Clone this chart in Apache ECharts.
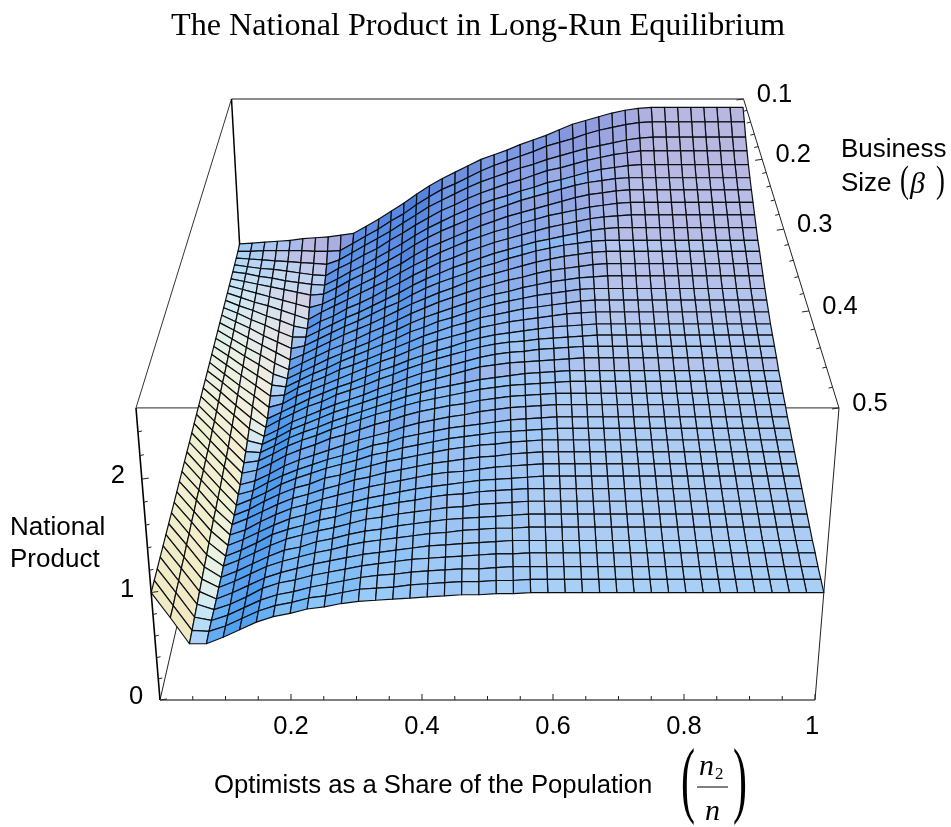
<!DOCTYPE html>
<html><head><meta charset="utf-8">
<style>html,body{margin:0;padding:0;background:#fff}#c{width:951px;height:827px}</style>
<script src="https://cdn.jsdelivr.net/npm/echarts@6/dist/echarts.min.js"></script>
</head><body><div id="c"></div>
<script>
const titleText = 'The National Product in Long-Run Equilibrium';
const shareGrid = [0,.0256,.0513,.0769,.1026,.1282,.1538,.1795,.2051,.2308,.2564,.2821,.3077,.3333,.359,.3846,.4103,.4359,.4615,.4872,.5128,.5385,.5641,.5897,.6154,.641,.6667,.6923,.7179,.7436,.7692,.7949,.8205,.8462,.8718,.8974,.9231,.9487,.9744,1];
const betaGrid = [.1,.1103,.1205,.1308,.141,.1513,.1615,.1718,.1821,.1923,.2026,.2128,.2231,.2333,.2436,.2538,.2641,.2744,.2846,.2949,.3051,.3154,.3256,.3359,.3462,.3564,.3667,.3769,.3872,.3974,.4077,.4179,.4282,.4385,.4487,.459,.4692,.4795,.4897,.5];
const shareTickLabels = [[.2,'0.2'],[.4,'0.4'],[.6,'0.6'],[.8,'0.8'],[1,'1']];
const betaTickLabels = [[.1,'0.1'],[.2,'0.2'],[.3,'0.3'],[.4,'0.4'],[.5,'0.5']];
const productTickLabels = [[0,'0'],[1,'1'],[2,'2']];
const shareMinorTicks = [.05,.1,.15,.25,.3,.35,.45,.5,.55,.65,.7,.75,.85,.9,.95];
const betaMinorTicks = [.12,.14,.16,.18,.22,.24,.26,.28,.32,.34,.36,.38,.42,.44,.46,.48];
const productMinorTicks = [.2,.4,.6,.8,1.2,1.4,1.6,1.8,2.2,2.4];
const productTop = 2.6;
// National product: one row per business size (0.1 at the back to 0.5 at the front), one value per optimist share
const productRows = [
[1.01,1.02,1.03,1.04,1.05,1.07,1.08,1.09,1.11,1.13,1.21,1.29,1.38,1.47,1.57,1.66,1.74,1.81,1.88,1.95,2.00,2.05,2.11,2.16,2.21,2.27,2.33,2.37,2.41,2.45,2.48,2.50,2.51,2.51,2.51,2.51,2.51,2.51,2.51,2.51],
[1.00,1.00,1.01,1.01,1.01,1.01,1.00,1.00,1.01,1.09,1.17,1.25,1.34,1.42,1.52,1.61,1.69,1.75,1.82,1.89,1.95,2.00,2.05,2.10,2.16,2.20,2.24,2.29,2.33,2.36,2.39,2.41,2.42,2.42,2.42,2.42,2.42,2.42,2.42,2.42],
[1.00,.99,.98,.97,.96,.95,.94,.93,.98,1.06,1.14,1.22,1.30,1.39,1.48,1.57,1.64,1.71,1.78,1.84,1.89,1.94,1.99,2.03,2.08,2.12,2.16,2.20,2.23,2.26,2.29,2.31,2.32,2.32,2.32,2.32,2.32,2.32,2.32,2.32],
[1.00,.98,.96,.95,.93,.91,.89,.88,.96,1.03,1.11,1.18,1.27,1.35,1.44,1.52,1.60,1.66,1.73,1.79,1.84,1.89,1.93,1.98,2.03,2.06,2.10,2.14,2.17,2.20,2.22,2.24,2.24,2.24,2.24,2.24,2.24,2.24,2.24,2.24],
[1.00,.98,.95,.93,.90,.88,.86,.85,.92,1.00,1.07,1.15,1.23,1.31,1.40,1.48,1.55,1.62,1.68,1.74,1.79,1.83,1.88,1.92,1.97,2.00,2.04,2.08,2.11,2.13,2.15,2.16,2.16,2.16,2.16,2.16,2.16,2.16,2.16,2.16],
[1.00,.97,.94,.91,.88,.85,.82,.83,.90,.98,1.05,1.12,1.20,1.28,1.37,1.45,1.52,1.58,1.64,1.70,1.75,1.80,1.85,1.89,1.93,1.97,2.01,2.04,2.06,2.08,2.09,2.09,2.09,2.09,2.09,2.09,2.09,2.09,2.09,2.09],
[1.00,.96,.92,.88,.84,.80,.76,.80,.87,.95,1.02,1.09,1.17,1.24,1.33,1.41,1.47,1.53,1.59,1.65,1.70,1.75,1.79,1.83,1.87,1.91,1.95,1.98,2.00,2.02,2.03,2.03,2.03,2.03,2.03,2.03,2.03,2.03,2.03,2.03],
[1.00,.95,.90,.86,.81,.76,.71,.79,.86,.93,1.00,1.07,1.14,1.22,1.30,1.37,1.44,1.50,1.56,1.61,1.66,1.70,1.75,1.79,1.83,1.86,1.89,1.92,1.94,1.96,1.97,1.97,1.97,1.97,1.97,1.97,1.97,1.97,1.97,1.97],
[1.00,.94,.89,.83,.78,.72,.69,.77,.83,.91,.97,1.04,1.12,1.19,1.27,1.34,1.41,1.46,1.52,1.57,1.62,1.66,1.70,1.74,1.78,1.81,1.84,1.87,1.89,1.90,1.91,1.91,1.91,1.91,1.91,1.91,1.91,1.91,1.91,1.91],
[1.00,.94,.87,.81,.74,.68,.68,.75,.82,.89,.95,1.02,1.09,1.16,1.24,1.31,1.37,1.43,1.48,1.53,1.58,1.62,1.66,1.70,1.73,1.76,1.79,1.82,1.84,1.85,1.85,1.85,1.85,1.85,1.85,1.85,1.85,1.85,1.85,1.85],
[1.00,.93,.86,.78,.71,.64,.67,.74,.81,.88,.94,1.01,1.08,1.14,1.22,1.29,1.35,1.40,1.45,1.51,1.55,1.60,1.64,1.68,1.71,1.74,1.76,1.78,1.79,1.79,1.79,1.79,1.79,1.79,1.79,1.79,1.79,1.79,1.79,1.79],
[1.00,.92,.84,.76,.68,.60,.66,.73,.80,.87,.93,.99,1.06,1.13,1.20,1.26,1.32,1.37,1.43,1.48,1.52,1.56,1.60,1.64,1.67,1.70,1.72,1.74,1.75,1.75,1.75,1.75,1.75,1.75,1.75,1.75,1.75,1.75,1.75,1.75],
[1.00,.91,.82,.74,.65,.58,.65,.72,.79,.85,.91,.98,1.04,1.11,1.18,1.24,1.30,1.35,1.40,1.45,1.49,1.53,1.56,1.60,1.63,1.65,1.67,1.69,1.70,1.70,1.70,1.70,1.70,1.70,1.70,1.70,1.70,1.70,1.70,1.70],
[1.00,.91,.81,.72,.62,.57,.64,.71,.78,.84,.90,.96,1.03,1.09,1.16,1.22,1.27,1.32,1.37,1.42,1.46,1.49,1.53,1.56,1.59,1.61,1.63,1.64,1.65,1.65,1.65,1.65,1.65,1.65,1.65,1.65,1.65,1.65,1.65,1.65],
[1.00,.90,.79,.69,.59,.57,.64,.71,.77,.84,.90,.96,1.02,1.08,1.15,1.20,1.26,1.30,1.35,1.40,1.44,1.47,1.50,1.53,1.55,1.57,1.59,1.60,1.60,1.60,1.60,1.60,1.60,1.60,1.60,1.60,1.60,1.60,1.60,1.60],
[1.00,.89,.78,.67,.56,.57,.65,.71,.77,.84,.89,.95,1.01,1.07,1.13,1.19,1.24,1.29,1.33,1.38,1.41,1.44,1.47,1.49,1.51,1.53,1.55,1.56,1.56,1.56,1.56,1.56,1.56,1.56,1.56,1.56,1.56,1.56,1.56,1.56],
[1.00,.88,.76,.65,.53,.57,.65,.71,.77,.83,.89,.95,1.01,1.06,1.12,1.18,1.23,1.27,1.31,1.36,1.39,1.42,1.44,1.46,1.48,1.50,1.51,1.52,1.52,1.52,1.52,1.52,1.52,1.52,1.52,1.52,1.52,1.52,1.52,1.52],
[1.00,.88,.75,.63,.50,.57,.64,.71,.77,.83,.88,.94,1.00,1.05,1.11,1.16,1.21,1.25,1.30,1.34,1.37,1.39,1.41,1.43,1.45,1.46,1.47,1.48,1.48,1.48,1.48,1.48,1.48,1.48,1.48,1.48,1.48,1.48,1.48,1.48],
[1.00,.87,.73,.60,.50,.58,.65,.72,.77,.84,.89,.94,1.00,1.05,1.11,1.16,1.21,1.25,1.29,1.33,1.36,1.38,1.39,1.41,1.42,1.43,1.44,1.45,1.45,1.45,1.45,1.45,1.45,1.45,1.45,1.45,1.45,1.45,1.45,1.45],
[1.00,.86,.72,.58,.50,.57,.65,.71,.77,.83,.88,.93,.99,1.04,1.10,1.15,1.19,1.23,1.27,1.31,1.34,1.36,1.37,1.39,1.40,1.41,1.42,1.42,1.42,1.42,1.42,1.42,1.42,1.42,1.42,1.42,1.42,1.42,1.42,1.42],
[1.00,.85,.70,.55,.51,.58,.66,.72,.78,.84,.89,.94,.99,1.04,1.09,1.14,1.18,1.22,1.26,1.30,1.32,1.34,1.35,1.36,1.37,1.38,1.39,1.39,1.39,1.39,1.39,1.39,1.39,1.39,1.39,1.39,1.39,1.39,1.39,1.39],
[1.00,.84,.69,.53,.52,.59,.67,.73,.78,.84,.89,.94,.99,1.04,1.09,1.13,1.17,1.20,1.23,1.26,1.28,1.30,1.32,1.33,1.34,1.35,1.35,1.35,1.35,1.35,1.35,1.35,1.35,1.35,1.35,1.35,1.35,1.35,1.35,1.35],
[1.00,.84,.67,.51,.53,.60,.68,.74,.79,.85,.90,.95,1.00,1.04,1.09,1.13,1.16,1.19,1.22,1.25,1.27,1.29,1.30,1.31,1.32,1.33,1.33,1.33,1.33,1.33,1.33,1.33,1.33,1.33,1.33,1.33,1.33,1.33,1.33,1.33],
[1.00,.83,.66,.50,.53,.60,.68,.74,.79,.85,.89,.94,.99,1.03,1.08,1.12,1.15,1.18,1.20,1.23,1.25,1.27,1.28,1.29,1.30,1.30,1.30,1.30,1.30,1.30,1.30,1.30,1.30,1.30,1.30,1.30,1.30,1.30,1.30,1.30],
[1.00,.83,.66,.48,.52,.59,.67,.73,.78,.83,.88,.93,.97,1.01,1.06,1.10,1.13,1.16,1.18,1.21,1.23,1.25,1.26,1.27,1.28,1.28,1.28,1.28,1.28,1.28,1.28,1.28,1.28,1.28,1.28,1.28,1.28,1.28,1.28,1.28],
[1.00,.83,.65,.48,.52,.60,.67,.73,.78,.83,.87,.92,.97,1.00,1.05,1.08,1.11,1.14,1.16,1.18,1.20,1.22,1.23,1.24,1.25,1.25,1.25,1.25,1.25,1.25,1.25,1.25,1.25,1.25,1.25,1.25,1.25,1.25,1.25,1.25],
[1.00,.82,.64,.47,.53,.60,.68,.74,.79,.84,.88,.92,.97,1.00,1.04,1.07,1.10,1.13,1.15,1.17,1.19,1.20,1.21,1.22,1.23,1.23,1.23,1.23,1.23,1.23,1.23,1.23,1.23,1.23,1.23,1.23,1.23,1.23,1.23,1.23],
[1.00,.82,.64,.47,.53,.61,.68,.74,.78,.84,.87,.92,.96,1.00,1.03,1.06,1.09,1.12,1.14,1.16,1.17,1.19,1.20,1.21,1.21,1.21,1.21,1.21,1.21,1.21,1.21,1.21,1.21,1.21,1.21,1.21,1.21,1.21,1.21,1.21],
[1.00,.82,.63,.48,.54,.61,.68,.74,.78,.83,.87,.92,.95,.99,1.02,1.05,1.08,1.10,1.12,1.14,1.15,1.17,1.18,1.19,1.19,1.19,1.19,1.19,1.19,1.19,1.19,1.19,1.19,1.19,1.19,1.19,1.19,1.19,1.19,1.19],
[1.00,.82,.63,.48,.53,.61,.68,.74,.78,.83,.87,.91,.95,.98,1.01,1.04,1.07,1.09,1.10,1.12,1.14,1.15,1.16,1.17,1.17,1.17,1.17,1.17,1.17,1.17,1.17,1.17,1.17,1.17,1.17,1.17,1.17,1.17,1.17,1.17],
[1.00,.81,.62,.48,.54,.61,.68,.74,.78,.83,.86,.90,.94,.97,1.00,1.03,1.05,1.07,1.09,1.11,1.12,1.13,1.14,1.15,1.15,1.15,1.15,1.15,1.15,1.15,1.15,1.15,1.15,1.15,1.15,1.15,1.15,1.15,1.15,1.15],
[1.00,.81,.61,.48,.54,.61,.69,.74,.78,.83,.86,.91,.94,.97,1.00,1.02,1.05,1.07,1.08,1.10,1.11,1.12,1.13,1.13,1.13,1.13,1.13,1.13,1.13,1.13,1.13,1.13,1.13,1.13,1.13,1.13,1.13,1.13,1.13,1.13],
[1.00,.80,.60,.49,.55,.62,.69,.75,.79,.83,.86,.90,.94,.96,.99,1.01,1.03,1.05,1.06,1.08,1.09,1.10,1.11,1.11,1.11,1.11,1.11,1.11,1.11,1.11,1.11,1.11,1.11,1.11,1.11,1.11,1.11,1.11,1.11,1.11],
[1.00,.80,.59,.49,.55,.62,.69,.75,.78,.83,.86,.90,.93,.95,.98,1.00,1.02,1.04,1.05,1.06,1.07,1.08,1.09,1.09,1.09,1.09,1.09,1.09,1.09,1.09,1.09,1.09,1.09,1.09,1.09,1.09,1.09,1.09,1.09,1.09],
[1.00,.79,.58,.50,.56,.63,.70,.75,.79,.83,.86,.90,.93,.95,.97,.99,1.01,1.02,1.04,1.05,1.06,1.06,1.07,1.07,1.07,1.07,1.07,1.07,1.07,1.07,1.07,1.07,1.07,1.07,1.07,1.07,1.07,1.07,1.07,1.07],
[1.00,.79,.57,.50,.56,.63,.70,.75,.79,.83,.86,.89,.92,.94,.96,.98,1.00,1.01,1.02,1.03,1.04,1.05,1.05,1.05,1.05,1.05,1.05,1.05,1.05,1.05,1.05,1.05,1.05,1.05,1.05,1.05,1.05,1.05,1.05,1.05],
[1.00,.78,.56,.51,.56,.63,.71,.76,.79,.83,.86,.89,.92,.94,.96,.98,.99,1.00,1.01,1.02,1.03,1.03,1.04,1.04,1.04,1.04,1.04,1.04,1.04,1.04,1.04,1.04,1.04,1.04,1.04,1.04,1.04,1.04,1.04,1.04],
[1.00,.78,.55,.52,.57,.64,.71,.76,.79,.83,.86,.89,.92,.94,.95,.97,.98,.99,1.00,1.00,1.01,1.02,1.02,1.02,1.02,1.02,1.02,1.02,1.02,1.02,1.02,1.02,1.02,1.02,1.02,1.02,1.02,1.02,1.02,1.02],
[1.00,.77,.54,.53,.58,.65,.72,.77,.80,.84,.86,.89,.92,.93,.94,.96,.97,.98,.99,.99,1.00,1.00,1.01,1.01,1.01,1.01,1.01,1.01,1.01,1.01,1.01,1.01,1.01,1.01,1.01,1.01,1.01,1.01,1.01,1.01],
[1.00,.77,.53,.53,.59,.66,.73,.78,.81,.85,.87,.90,.92,.93,.94,.95,.96,.97,.98,.98,.99,.99,1.00,1.00,1.00,1.00,1.00,1.00,1.00,1.00,1.00,1.00,1.00,1.00,1.00,1.00,1.00,1.00,1.00,1.00]
];

const SANS = '"Liberation Sans", Arial, sans-serif';
const SERIF = '"Liberation Serif", "Times New Roman", serif';

/* perspective view of the box: share runs left to right, business size from back to front, product upward */
function project(share, beta, product) {
  const v = (0.5 - beta) / 0.4, w = product / productTop;
  const d = 1 + 0.3476 * v - 0.0683 * w;
  return [487.5 + (share - 0.5) * 655 / d, (700 - 253.5 * v - 319.9 * w) / d];
}
function unit(a) { const n = Math.hypot(a[0], a[1], a[2]); return [a[0]/n, a[1]/n, a[2]/n]; }
const lightR = unit([1,0,1]), lightG = unit([1,1,1]), lightB = unit([0,1,1]);
const dot = (a,b) => a[0]*b[0]+a[1]*b[1]+a[2]*b[2];
const tilt = Math.PI / 6, heightScale = 0.4 / productTop;
function shade(i, j) {
  const z = (a,b) => productRows[b][a];
  const du = shareGrid[1] - shareGrid[0], dv = 1 / (betaGrid.length - 1);
  const p = ((z(i+1,j)+z(i+1,j+1)) - (z(i,j)+z(i,j+1))) / (2*du);
  const q = Math.min(2.8, ((z(i,j)+z(i+1,j)) - (z(i,j+1)+z(i+1,j+1))) / (2*dv));
  const n = unit([-p*heightScale, -q*heightScale, 1]);
  const cam = [n[0], n[1]*Math.cos(tilt)+n[2]*Math.sin(tilt), -n[1]*Math.sin(tilt)+n[2]*Math.cos(tilt)];
  const r = Math.max(0, dot(cam, lightR)), g = Math.max(0, dot(cam, lightG)), b = Math.max(0, dot(cam, lightB));
  const to = x => Math.round(255*Math.min(1, x));
  return 'rgb('+to(0.07+0.93*r)+','+to(0.27+0.70*g)+','+to(0.49+0.5*b)+')';
}

const nx = shareGrid.length - 1, ny = betaGrid.length - 1;
const cells = [];
for (let j = 0; j < ny; j++) {
  const order = [];
  let l = 0, r = nx - 1;
  while (l <= r) { order.push(l++); if (l <= r) order.push(r--); }
  order.forEach(i => cells.push([i, j]));
}
const hi = productTop;
const backEdges = [
  [0,.1,hi,1,.1,hi,'#666',1.4],[0,.1,hi,0,.5,hi,'#333',1],[0,.5,hi,1,.5,hi,'#555',1.2],
  [0,.1,hi,0,.1,0,'#000',1.5],[0,.1,0,0,.5,0,'#222',1]
];
const frontEdges = [
  [0,.5,hi,0,.5,0,'#000',1.6],[1,.5,hi,1,.5,0,'#222',1],[0,.5,0,1,.5,0,'#555',1.5],[1,.1,hi,1,.5,hi,'#222',1]
];
const ticks = [];
shareTickLabels.forEach(t => ticks.push(['x', t[0], 6]));
shareMinorTicks.forEach(t => ticks.push(['x', t, 4]));
betaTickLabels.forEach(t => ticks.push(['b', t[0], 7]));
betaMinorTicks.forEach(t => ticks.push(['b', t, 4]));
productTickLabels.forEach(t => ticks.push(['z', t[0], 7]));
productMinorTicks.forEach(t => ticks.push(['z', t, 4]));

const lineItem = (api, a, b, color, width) => {
  const p = api.coord(a), q = api.coord(b);
  return {type:'line', shape:{x1:p[0],y1:p[1],x2:q[0],y2:q[1]}, style:{stroke:color, lineWidth:width}};
};
const edgeSeries = (edges, z) => ({
  type:'custom', z, silent:true, coordinateSystem:'cartesian2d', clip:false,
  data: edges.map((e,k) => [k]),
  renderItem:(p, api) => {
    const e = edges[api.value(0)];
    return lineItem(api, project(e[0],e[1],e[2]), project(e[3],e[4],e[5]), e[6], e[7]);
  }
});
const labelSeries = (list, place, z) => ({
  type:'custom', z, silent:true, coordinateSystem:'cartesian2d', clip:false,
  data: list.map((t,k) => [k]),
  renderItem:(p, api) => {
    const t = list[api.value(0)], pos = api.coord(place(t[0]));
    return {type:'text', x:pos[0], y:pos[1], style:{text:t[1], font:'25.5px '+SANS, fill:'#000', align:'center', verticalAlign:'middle'}};
  }
});

const txt = (text, x, y, font, extra, sx) => ({type:'text', x, y, z:20, silent:true, scaleX:sx||1,
  style:Object.assign({text, font, fill:'#000', textAlign:'left', textVerticalAlign:'middle'}, extra||{})});

const chart = echarts.init(document.getElementById('c'), null, {renderer:'canvas'});
chart.setOption({
  animation:false,
  backgroundColor:'#fff',
  title:{text:titleText, left:171, top:11, padding:0, textStyle:{fontFamily:SERIF, fontSize:32.2, fontWeight:'normal', color:'#000'}},
  grid:{left:0,right:0,top:0,bottom:0},
  xAxis:{type:'value',min:0,max:951,show:false},
  yAxis:{type:'value',min:0,max:827,inverse:true,show:false},
  series:[
    edgeSeries(backEdges, 1),
    {
      type:'custom', z:2, silent:true, coordinateSystem:'cartesian2d', clip:false, progressive:0,
      data:cells,
      renderItem:(p, api) => {
        const i = api.value(0), j = api.value(1);
        const corners = [[i,j],[i+1,j],[i+1,j+1],[i,j+1]].map(c => api.coord(project(shareGrid[c[0]], betaGrid[c[1]], productRows[c[1]][c[0]])));
        return {type:'polygon', shape:{points:corners}, style:{fill:shade(i,j), stroke:'#0c0e12', lineWidth:1.2, lineJoin:'round'}};
      }
    },
    edgeSeries(frontEdges, 3),
    {
      type:'custom', z:4, silent:true, coordinateSystem:'cartesian2d', clip:false,
      data:ticks.map((t,k)=>[k]),
      renderItem:(p, api) => {
        const t = ticks[api.value(0)];
        if (t[0]==='x') { const a = project(t[1],.5,0); return lineItem(api, a, [a[0],a[1]-t[2]], '#222', 1); }
        if (t[0]==='b') { const a = project(1,t[1],hi); return lineItem(api, a, [a[0]-t[2],a[1]+1], '#222', 1); }
        const a = project(0,.5,t[1]); return lineItem(api, a, [a[0]+t[2],a[1]-1], '#222', 1);
      }
    },
    labelSeries(shareTickLabels, s => { const a = project(s,.5,0); return [a[0]-(s===1?3:0), a[1]+27]; }, 5),
    labelSeries(betaTickLabels, b => { const a = project(1,b,hi); return [a[0]+31, a[1]-4]; }, 5),
    labelSeries(productTickLabels, z => { const a = project(0,.5,z); return [a[0]-24, a[1]-3]; }, 5)
  ],
  graphic:[
    txt('National', 10, 528, '26px '+SANS),
    txt('Product', 10, 560, '26px '+SANS),
    txt('Business', 841, 150, '26px '+SANS),
    txt('Size', 841, 184, '26px '+SANS),
    txt('(', 900, 182, '38px '+SERIF, null, .7),
    txt('\u03B2', 910, 185, 'italic 30px '+SERIF),
    txt(')', 936, 182, '38px '+SERIF, null, .7),
    txt('Optimists as a Share of the Population', 214, 786, '25.7px '+SANS),
    txt('(', 681, 785, '84px '+SERIF, null, .5),
    txt(')', 733, 785, '84px '+SERIF, null, .5),
    txt('n', 699, 767, 'italic 30px '+SERIF),
    txt('2', 715, 775, '17px '+SERIF),
    txt('n', 705, 812, 'italic 30px '+SERIF),
    {type:'line', z:20, silent:true, shape:{x1:697,y1:787,x2:728,y2:787}, style:{stroke:'#000',lineWidth:1}}
  ]
});
</script></body></html>
